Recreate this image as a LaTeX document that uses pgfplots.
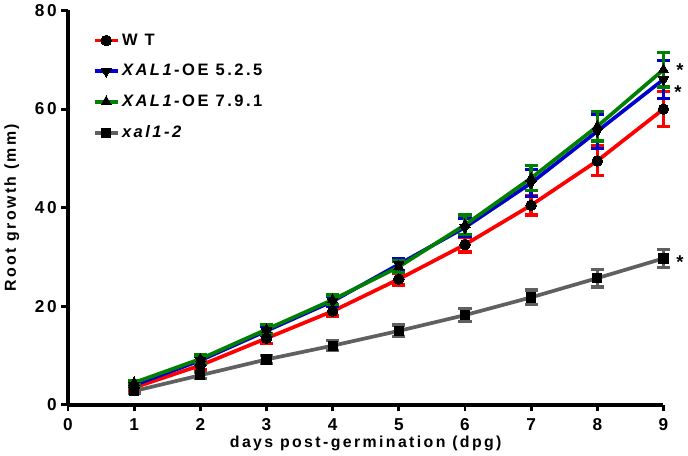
\documentclass[border=0pt]{standalone}
\usepackage{fontspec}
\setmainfont{Liberation Sans}[LetterSpace=15]
\usepackage{pgfplots}
\pgfplotsset{compat=1.18}
\definecolor{wtred}{RGB}{255,0,0}
\definecolor{oeblue}{RGB}{0,0,204}
\definecolor{oegreen}{RGB}{0,128,0}
\definecolor{mutgray}{RGB}{96,96,96}

\begin{document}
\begin{tikzpicture}
\begin{axis}[
    scale only axis,
    width=450pt, height=298pt,
    xmin=0, xmax=9, ymin=0, ymax=80,
    xtick={0,...,9}, ytick={0,20,40,60,80},
    axis x line=bottom, axis y line=left,
    axis line style={line width=2.8pt, -},
    tick style={line width=2.2pt, black},
    tick align=outside, major tick length=5pt,
    /pgf/number format/assume math mode=true,
    tick label style={font=\bfseries\fontsize{13}{15}\selectfont},
    xticklabel style={yshift=-2pt},
    xlabel={\bfseries days post-germination (dpg)},
    ylabel={\bfseries Root growth (mm)},
    label style={font=\fontsize{12}{14}\selectfont},
    xlabel style={yshift=3pt},
    ylabel style={yshift=5pt},
    clip=false,
    legend style={draw=none, at={(0.035,0.955)}, anchor=north west,
      font=\bfseries\fontsize{12.5}{14}\selectfont, row sep=9pt},
    legend cell align=left,
    every axis plot/.append style={line width=2.8pt},
    error bars/error bar style={line width=2.5pt},
    error bars/error mark options={rotate=90, mark size=5pt, line width=2.5pt},
]
\addplot[color=wtred, mark=*, mark options={fill=black, draw=black, mark size=4pt, line width=0pt},
  error bars/.cd, y dir=both, y explicit] coordinates {
  (1,3.5) +- (0,0.5) (2,8) +- (0,0.8) (3,13.5) +- (0,1) (4,19) +- (0,1)
  (5,25.5) +- (0,1.2) (6,32.5) +- (0,1.5) (7,40.5) +- (0,2)
  (8,49.5) +- (0,3) (9,60) +- (0,3.6)};
\addlegendentry{W T}
\addplot[color=oeblue, mark=triangle*, mark options={rotate=180, fill=black, draw=black, mark size=4.5pt, line width=0pt},
  error bars/.cd, y dir=both, y explicit] coordinates {
  (1,4) +- (0,0.5) (2,9) +- (0,0.8) (3,15) +- (0,1) (4,21) +- (0,1)
  (5,28.5) +- (0,1.2) (6,36) +- (0,1.8) (7,45) +- (0,2.7)
  (8,55.5) +- (0,3.5) (9,66) +- (0,3.8)};
\addlegendentry{\textit{XAL1}-OE 5.2.5}
\addplot[color=oegreen, mark=triangle*, mark options={fill=black, draw=black, mark size=4.5pt, line width=0pt},
  error bars/.cd, y dir=both, y explicit] coordinates {
  (1,4.5) +- (0,0.5) (2,9.3) +- (0,0.8) (3,15.3) +- (0,1) (4,21.3) +- (0,1)
  (5,28) +- (0,1.2) (6,36.5) +- (0,2) (7,46) +- (0,2.5)
  (8,56.5) +- (0,3) (9,68) +- (0,3.5)};
\addlegendentry{\textit{XAL1}-OE 7.9.1}
\addplot[color=mutgray, mark=square*, mark options={fill=black, draw=black, mark size=3.5pt, line width=0pt},
  error bars/.cd, y dir=both, y explicit] coordinates {
  (1,2.8) +- (0,0.5) (2,6) +- (0,0.6) (3,9.2) +- (0,0.8) (4,12) +- (0,1)
  (5,15) +- (0,1.2) (6,18.2) +- (0,1.3) (7,21.8) +- (0,1.5)
  (8,25.7) +- (0,1.8) (9,29.7) +- (0,1.8)};
\addlegendentry{\textit{xal1-2}}
\node[font=\bfseries\fontsize{14}{14}\selectfont] at (axis cs:9.25,68) {*};
\node[font=\bfseries\fontsize{14}{14}\selectfont] at (axis cs:9.22,63.5) {*};
\node[font=\bfseries\fontsize{14}{14}\selectfont] at (axis cs:9.25,29) {*};
\end{axis}
\end{tikzpicture}
\end{document}
